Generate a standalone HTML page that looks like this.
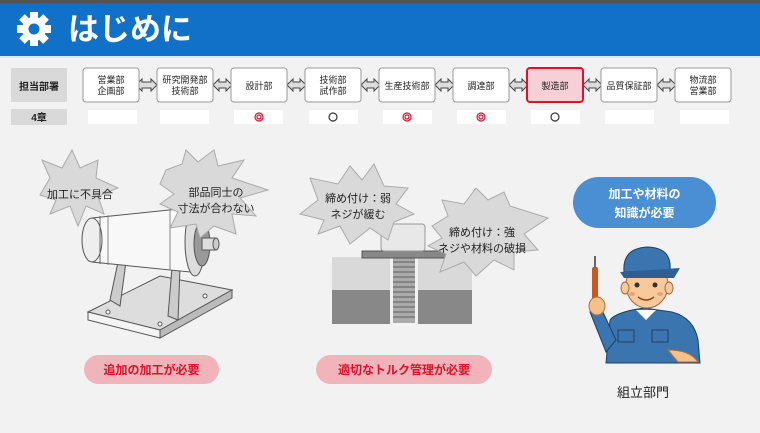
<!DOCTYPE html>
<html><head><meta charset="utf-8"><style>
body{margin:0;width:760px;height:428px;overflow:hidden;background:#f2f2f2;font-family:"Liberation Sans","Noto Sans CJK JP",sans-serif;}
svg text{font-family:"Liberation Sans","Noto Sans CJK JP",sans-serif;}
</style></head><body>
<svg width="760" height="428" viewBox="0 0 760 428" xmlns="http://www.w3.org/2000/svg">
<rect width="760" height="428" fill="#f2f2f2"/>
<rect width="760" height="3" fill="#555"/>
<rect y="3" width="760" height="53" fill="#1170c8"/>
<rect y="56" width="760" height="2" fill="#dbe8f5"/>
<g transform="translate(34,29)" fill="#fff">
<circle r="12"/>
<g id="t"><rect x="-4" y="-17" width="8" height="8"/></g>
<use href="#t" transform="rotate(45)"/><use href="#t" transform="rotate(90)"/><use href="#t" transform="rotate(135)"/><use href="#t" transform="rotate(180)"/><use href="#t" transform="rotate(225)"/><use href="#t" transform="rotate(270)"/><use href="#t" transform="rotate(315)"/>
<circle r="5.5" fill="#1170c8"/>
</g>
<text x="68" y="40" font-size="31" font-weight="bold" fill="#fff">はじめに</text>

<rect x="11" y="68" width="56" height="34" fill="#d9d9d9"/>
<text x="39" y="90" font-size="10" font-weight="bold" text-anchor="middle" fill="#222">担当部署</text>
<rect x="11" y="109" width="56" height="16" fill="#d9d9d9"/>
<text x="39" y="121" font-size="10" font-weight="bold" text-anchor="middle" fill="#222">4章</text>

<g font-size="9" text-anchor="middle" fill="#222">
<g stroke="#444" stroke-width="1" fill="#ddd">
<path d="M139 85 l6 -6 v3 h9 v-3 l6 6 l-6 6 v-3 h-9 v3z" transform="translate(-3,0)"/>
<path d="M213 85 l6 -6 v3 h7 v-3 l6 6 l-6 6 v-3 h-7 v3z"/>
<path d="M287 85 l6 -6 v3 h7 v-3 l6 6 l-6 6 v-3 h-7 v3z"/>
<path d="M361 85 l6 -6 v3 h7 v-3 l6 6 l-6 6 v-3 h-7 v3z"/>
<path d="M435 85 l6 -6 v3 h7 v-3 l6 6 l-6 6 v-3 h-7 v3z"/>
<path d="M509 85 l6 -6 v3 h7 v-3 l6 6 l-6 6 v-3 h-7 v3z"/>
<path d="M583 85 l6 -6 v3 h7 v-3 l6 6 l-6 6 v-3 h-7 v3z"/>
<path d="M657 85 l6 -6 v3 h7 v-3 l6 6 l-6 6 v-3 h-7 v3z"/>
</g>
<g fill="#fff" stroke="#999" stroke-width="1">
<rect x="83" y="68" width="56" height="34" rx="3"/>
<rect x="157" y="68" width="56" height="34" rx="3"/>
<rect x="231" y="68" width="56" height="34" rx="3"/>
<rect x="305" y="68" width="56" height="34" rx="3"/>
<rect x="379" y="68" width="56" height="34" rx="3"/>
<rect x="453" y="68" width="56" height="34" rx="3"/>
<rect x="527" y="68" width="56" height="34" rx="3" fill="#f6d0d6" stroke="#e0102a" stroke-width="2"/>
<rect x="601" y="68" width="56" height="34" rx="3"/>
<rect x="675" y="68" width="56" height="34" rx="3"/>
</g>
<text x="111" y="83">営業部</text><text x="111" y="94">企画部</text>
<text x="185" y="83">研究開発部</text><text x="185" y="94">技術部</text>
<text x="259" y="89">設計部</text>
<text x="333" y="83">技術部</text><text x="333" y="94">試作部</text>
<text x="407" y="89">生産技術部</text>
<text x="481" y="89">調達部</text>
<text x="555" y="89">製造部</text>
<text x="629" y="89">品質保証部</text>
<text x="703" y="83">物流部</text><text x="703" y="94">営業部</text>
<g fill="#fff">
<rect x="88" y="110" width="49" height="14"/><rect x="160" y="110" width="49" height="14"/><rect x="234" y="110" width="49" height="14"/><rect x="309" y="110" width="49" height="14"/><rect x="383" y="110" width="49" height="14"/><rect x="457" y="110" width="49" height="14"/><rect x="531" y="110" width="49" height="14"/><rect x="605" y="110" width="49" height="14"/><rect x="680" y="110" width="49" height="14"/>
</g>
<g fill="none" stroke-width="1.2">
<circle cx="259" cy="117" r="4" stroke="#e0102a"/><circle cx="259" cy="117" r="2" stroke="#e0102a"/>
<circle cx="333" cy="117" r="4" stroke="#333"/>
<circle cx="407" cy="117" r="4" stroke="#e0102a"/><circle cx="407" cy="117" r="2" stroke="#e0102a"/>
<circle cx="481" cy="117" r="4" stroke="#e0102a"/><circle cx="481" cy="117" r="2" stroke="#e0102a"/>
<circle cx="555" cy="117" r="4" stroke="#333"/>
</g>
</g>

<!-- machine -->
<g stroke="#555" stroke-width="1">
<path d="M88 312 L160 276 L232 290 L160 330 Z" fill="#ddd"/>
<path d="M88 312 L160 330 L160 338 L88 320Z" fill="#f5f5f5"/>
<path d="M160 330 L232 290 L232 298 L160 338Z" fill="#bbb"/>
<circle cx="108" cy="312" r="2" fill="#fff"/><circle cx="160" cy="324" r="2" fill="#fff"/><circle cx="205" cy="296" r="2" fill="#fff"/>
<path d="M110 300 L118 262 L126 262 L120 306Z" fill="#ccc"/>
<path d="M168 316 L172 268 L180 268 L178 320Z" fill="#ccc"/>
<path d="M92 218 L188 208 L190 272 L92 262 Z" fill="#f8f8f8"/>
<ellipse cx="92" cy="240" rx="10" ry="22" fill="#eee"/>
<path d="M100 216 L100 264" stroke="#666"/><path d="M108 215 L108 265" stroke="#888"/>
<path d="M170 210 L170 270" stroke="#888"/>
<ellipse cx="195" cy="242" rx="10" ry="34" fill="#ddd"/>
<ellipse cx="202" cy="244" rx="8" ry="22" fill="#999"/>
<rect x="202" y="238" width="14" height="12" fill="#ddd"/>
<ellipse cx="216" cy="244" rx="3" ry="6" fill="#ccc"/>
</g>
<path d="M40 195 L50 178 L42 160 L62 168 L72 150 L80 168 L98 160 L96 178 L118 188 L98 196 L104 214 L86 206 L78 226 L70 206 L50 214 L56 200Z" fill="#d9d9d9" stroke="#aaa"/>
<text x="80" y="198" font-size="11" text-anchor="middle" fill="#222">加工に不具合</text>
<path d="M166 170 L182 164 L186 150 L198 162 L214 150 L218 166 L244 160 L232 178 L268 190 L240 198 L256 216 L232 214 L236 234 L214 226 L200 238 L196 224 L170 228 L178 212 L160 204 L174 194 L160 184Z" fill="#d9d9d9" stroke="#aaa"/>
<text x="216" y="196" font-size="11" text-anchor="middle" fill="#222">部品同士の</text>
<text x="216" y="212" font-size="11" text-anchor="middle" fill="#222">寸法が合わない</text>

<!-- screw -->
<rect x="332" y="257" width="140" height="40" fill="#d9d9d9"/>
<rect x="332" y="290" width="140" height="34" fill="#888"/>
<rect x="390" y="257" width="28" height="67" fill="#f2f2f2"/>
<rect x="393" y="255" width="22" height="68" fill="#aaa"/>
<g stroke="#777" stroke-width="1.5"><path d="M393 262h22M393 267h22M393 272h22M393 277h22M393 282h22M393 287h22M393 292h22M393 297h22M393 302h22M393 307h22M393 312h22M393 317h22"/></g>
<rect x="362" y="251" width="84" height="7" fill="#888" stroke="#555"/>
<rect x="381" y="224" width="44" height="27" rx="3" fill="#e8e8e8" stroke="#999"/>
<path d="M300 214 L318 200 L310 178 L338 184 L350 166 L362 180 L374 164 L384 186 L408 188 L396 204 L414 214 L394 222 L388 240 L370 228 L350 244 L340 226 L318 234 L324 220Z" fill="#d9d9d9" stroke="#aaa"/>
<text x="358" y="202" font-size="11" text-anchor="middle" fill="#222">締め付け：弱</text>
<text x="358" y="218" font-size="11" text-anchor="middle" fill="#222">ネジが緩む</text>
<path d="M432 226 L448 216 L442 200 L464 204 L476 188 L488 200 L504 192 L510 206 L548 218 L524 234 L538 250 L514 252 L514 270 L494 260 L476 276 L464 262 L440 272 L446 254 L428 246 L442 238Z" fill="#d9d9d9" stroke="#aaa"/>
<text x="482" y="236" font-size="11" text-anchor="middle" fill="#222">締め付け：強</text>
<text x="482" y="252" font-size="11" text-anchor="middle" fill="#222">ネジや材料の破損</text>

<rect x="84" y="355" width="135" height="29" rx="14.5" fill="#f0b4ba"/>
<text x="151.5" y="374" font-size="12" font-weight="bold" text-anchor="middle" fill="#e0102a">追加の加工が必要</text>
<rect x="316" y="355" width="176" height="29" rx="14.5" fill="#f0b4ba"/>
<text x="404" y="374" font-size="12" font-weight="bold" text-anchor="middle" fill="#e0102a">適切なトルク管理が必要</text>

<rect x="573" y="177" width="143" height="51" rx="25.5" fill="#4a8fd4"/>
<text x="644.5" y="198" font-size="12" font-weight="bold" text-anchor="middle" fill="#fff">加工や材料の</text>
<text x="644.5" y="217" font-size="12" font-weight="bold" text-anchor="middle" fill="#fff">知識が必要</text>

<!-- worker -->
<path d="M606 363 L610 320 Q616 312 644 308 L672 312 Q694 318 698 340 L700 363Z" fill="#3a75b0" stroke="#1d3f66"/>
<path d="M636 310 L646 320 L656 310Z" fill="#fff"/>
<rect x="618" y="330" width="16" height="12" fill="#3a75b0" stroke="#1d3f66"/>
<rect x="652" y="330" width="16" height="12" fill="#3a75b0" stroke="#1d3f66"/>
<path d="M590 312 L602 310 L616 340 L606 352Z" fill="#3a75b0" stroke="#1d3f66"/>
<rect x="592" y="267" width="6" height="34" rx="2" fill="#c85a20"/>
<rect x="594" y="256" width="2" height="12" fill="#666"/>
<ellipse cx="597" cy="306" rx="8" ry="9" fill="#f6c08a" stroke="#b07040"/>
<path d="M668 350 Q690 350 698 362 L678 362Z" fill="#f6c08a" stroke="#b07040"/>
<ellipse cx="647" cy="285" rx="21" ry="23" fill="#f8c99a" stroke="#a06840"/>
<ellipse cx="625" cy="288" rx="4" ry="6" fill="#f8c99a" stroke="#a06840"/>
<ellipse cx="669" cy="288" rx="4" ry="6" fill="#f8c99a" stroke="#a06840"/>
<path d="M624 272 Q622 248 648 247 Q672 248 670 270 Z" fill="#3a75b0" stroke="#1d3f66"/>
<path d="M620 272 L680 268 L674 278 L624 278Z" fill="#2d5f95"/>
<circle cx="637" cy="285" r="2.5" fill="#333"/><circle cx="655" cy="285" r="2.5" fill="#333"/>
<ellipse cx="632" cy="294" rx="3" ry="2" fill="#f0a070"/><ellipse cx="660" cy="294" rx="3" ry="2" fill="#f0a070"/>
<path d="M638 297 Q646 303 654 297" fill="none" stroke="#a04020" stroke-width="1.5"/>
<text x="643" y="397" font-size="13" text-anchor="middle" fill="#222">組立部門</text>
</svg>
</body></html>
